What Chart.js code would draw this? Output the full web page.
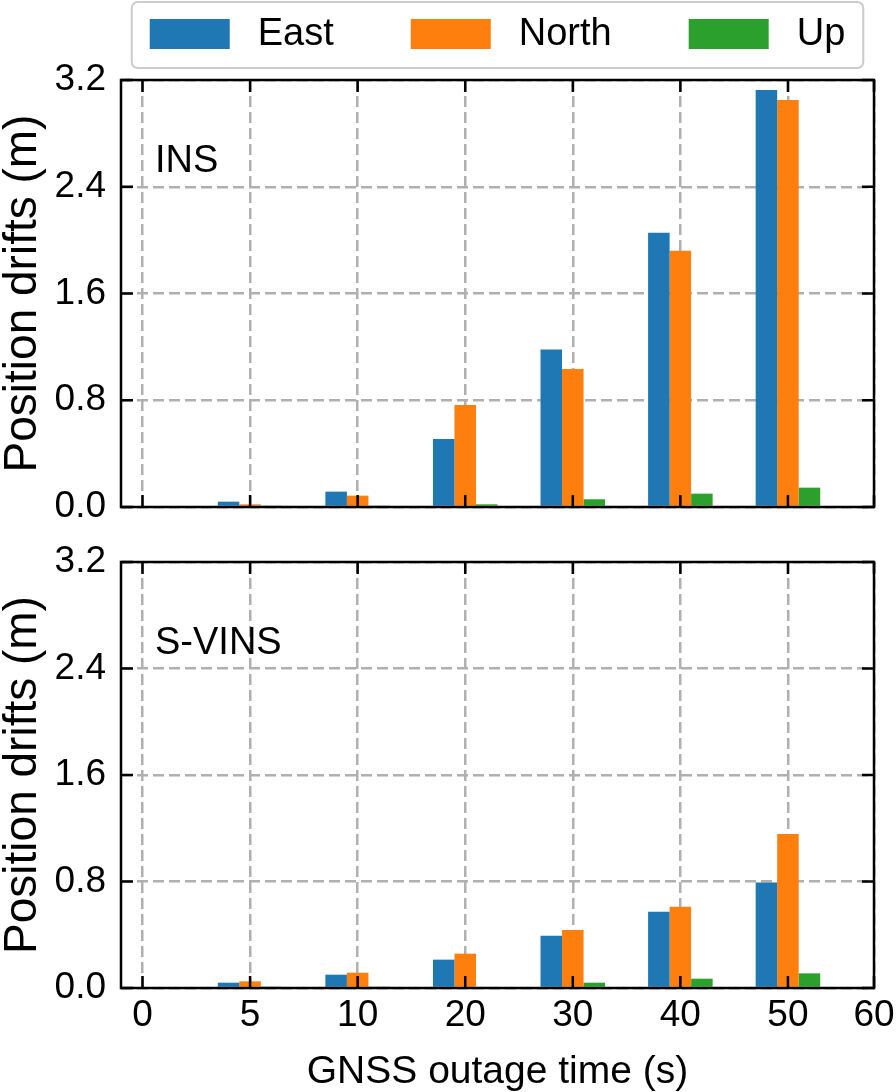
<!DOCTYPE html>
<html lang="en">
<head>
<meta charset="UTF-8">
<title>Position drifts</title>
<script src="https://cdn.jsdelivr.net/npm/chart.js@4.4.0/dist/chart.umd.min.js"></script>
<style>
body { margin: 0; background: #fff; }
#wrap { position: relative; width: 896px; height: 1092px; }
canvas { position: absolute; left: 0; }
</style>
</head>
<body>
<div id="wrap">
    <canvas id="insChart" width="896" height="535" style="top:0px"></canvas>
    <canvas id="svinsChart" width="896" height="557" style="top:535px"></canvas>
</div>

<script>
// x axis: categories are equally spaced, the 60 tick sits on the right edge
var tickLabels    = ['0', '5', '10', '20', '30', '40', '50', '60'];
var tickPositions = [0, 1, 2, 3, 4, 5, 6, 6.8];
var barPositions  = [1, 2, 3, 4, 5, 6];        // 5, 10, 20, 30, 40, 50 s
var yTicks = [0, 0.8, 1.6, 2.4, 3.2];

var seriesNames = ['East', 'North', 'Up'];

// INS
var insEast  = [0.04, 0.115, 0.51, 1.18, 2.055, 3.125];
var insNorth = [0.02, 0.085, 0.765, 1.035, 1.92, 3.05];
var insUp    = [0.001, 0.004, 0.02, 0.058, 0.10, 0.145];

// S-VINS
var svinsEast  = [0.04, 0.10, 0.213, 0.392, 0.573, 0.793];
var svinsNorth = [0.05, 0.115, 0.258, 0.435, 0.61, 1.156];
var svinsUp    = [0.002, 0.004, 0.01, 0.04, 0.07, 0.11];

var colors = ['#1f77b4', '#ff7f0e', '#2ca02c'];
var gridColor = '#b0b0b0';
var fontFamily = '"Liberation Sans", Arial, sans-serif';

function toPoints(vals) {
    return vals.map(function(v, i) { return {x: barPositions[i], y: v}; });
}

function makeDatasets(series) {
    return series.map(function(vals, i) {
        return {
            label: seriesNames[i],
            data: toPoints(vals),
            backgroundColor: colors[i],
            borderWidth: 0,
            // ruler min spacing is the 50->60 tick gap (0.8), so 0.75 gives 0.2 wide bars
            categoryPercentage: 0.75,
            barPercentage: 1.0
        };
    });
}

// frame and inward ticks on all four sides
const framePlugin = {
    id: 'frame',
    afterDraw(chart) {
        const {ctx, chartArea: a, scales: {x, y}} = chart;
        const len = 12;
        ctx.save();
        ctx.strokeStyle = '#000';
        ctx.lineWidth = 2.5;
        ctx.beginPath();
        x.ticks.forEach(function(t) {
            const px = x.getPixelForValue(t.value);
            ctx.moveTo(px, a.bottom); ctx.lineTo(px, a.bottom - len);
            ctx.moveTo(px, a.top); ctx.lineTo(px, a.top + len);
        });
        y.ticks.forEach(function(t) {
            const py = y.getPixelForValue(t.value);
            ctx.moveTo(a.left, py); ctx.lineTo(a.left + len, py);
            ctx.moveTo(a.right, py); ctx.lineTo(a.right - len, py);
        });
        ctx.stroke();
        ctx.strokeRect(a.left, a.top, a.right - a.left, a.bottom - a.top);
        ctx.restore();
    }
};

const panelLabelPlugin = {
    id: 'panelLabel',
    afterDraw(chart, args, opts) {
        const {ctx, chartArea: a} = chart;
        ctx.save();
        ctx.fillStyle = '#000';
        ctx.font = '38px ' + fontFamily;
        ctx.textBaseline = 'alphabetic';
        ctx.fillText(opts.text, a.left + 34, a.top + 92);
        ctx.restore();
    }
};

// matplotlib style legend box above the top panel
const boxLegendPlugin = {
    id: 'boxLegend',
    afterDraw(chart) {
        const {ctx, chartArea: a} = chart;
        const patchW = 80, patchH = 30, textGap = 28, itemGap = 77;
        const cy = 34;
        ctx.save();
        ctx.font = '38px ' + fontFamily;
        const items = chart.data.datasets.map(function(ds) {
            return {text: ds.label, color: ds.backgroundColor, w: ctx.measureText(ds.label).width};
        });
        let total = 0;
        items.forEach(function(it, i) { total += patchW + textGap + it.w + (i ? itemGap : 0); });
        const center = (a.left + a.right) / 2;
        let x = center - total / 2;

        ctx.strokeStyle = '#cccccc';
        ctx.lineWidth = 2;
        ctx.beginPath();
        ctx.roundRect(x - 18, 2, total + 36, 66, 6);
        ctx.stroke();

        ctx.textBaseline = 'middle';
        items.forEach(function(it) {
            ctx.fillStyle = it.color;
            ctx.fillRect(x, cy - patchH / 2, patchW, patchH);
            ctx.fillStyle = '#000';
            ctx.fillText(it.text, x + patchW + textGap, cy + 1);
            x += patchW + textGap + it.w + itemGap;
        });
        ctx.restore();
    }
};

function makeOptions(showX, label) {
    return {
        responsive: false,
        animation: false,
        layout: {
            padding: showX ? {top: 27, right: 22, bottom: 0, left: 0}
                           : {top: 80, right: 22, bottom: 28, left: 0}
        },
        plugins: {
            legend: {display: false},
            tooltip: {enabled: false},
            panelLabel: {text: label}
        },
        scales: {
            x: {
                type: 'linear',
                min: -0.2,
                max: 6.8,
                offset: false,
                z: 1,
                afterBuildTicks: function(s) { s.ticks = tickPositions.map(function(v) { return {value: v}; }); },
                afterFit: function(s) {
                    s.height = showX ? 104 : 0;
                    s.paddingLeft = 0;
                    s.paddingRight = 0;
                },
                grid: {offset: false, color: gridColor, lineWidth: 2.5, drawTicks: false},
                border: {display: false, dash: [11, 5]},
                ticks: {
                    display: showX,
                    padding: 6,
                    color: '#000',
                    autoSkip: false,
                    maxRotation: 0,
                    font: {family: fontFamily, size: 37},
                    callback: function(v, i) { return tickLabels[i]; }
                },
                title: {
                    display: showX,
                    text: 'GNSS outage time (s)',
                    color: '#000',
                    padding: 0,
                    font: {family: fontFamily, size: 39, lineHeight: 1}
                }
            },
            y: {
                min: 0,
                max: 3.2,
                z: 1,
                afterBuildTicks: function(s) { s.ticks = yTicks.map(function(v) { return {value: v}; }); },
                afterFit: function(s) {
                    s.width = 121;
                    // chart area edges are fixed by layout padding only
                    s.paddingTop = 0;
                    s.paddingBottom = 0;
                },
                grid: {color: gridColor, lineWidth: 2.5, drawTicks: false},
                border: {display: false, dash: [11, 5]},
                ticks: {
                    padding: 15,
                    color: '#000',
                    font: {family: fontFamily, size: 37},
                    callback: function(v) { return v.toFixed(1); }
                },
                title: {
                    display: true,
                    text: 'Position drifts (m)',
                    color: '#000',
                    padding: 0,
                    font: {family: fontFamily, size: 46, lineHeight: 1}
                }
            }
        }
    };
}

new Chart(document.getElementById('insChart'), {
    type: 'bar',
    data: {datasets: makeDatasets([insEast, insNorth, insUp])},
    options: makeOptions(false, 'INS'),
    plugins: [framePlugin, panelLabelPlugin, boxLegendPlugin]
});

new Chart(document.getElementById('svinsChart'), {
    type: 'bar',
    data: {datasets: makeDatasets([svinsEast, svinsNorth, svinsUp])},
    options: makeOptions(true, 'S-VINS'),
    plugins: [framePlugin, panelLabelPlugin]
});
</script>
</body>
</html>
